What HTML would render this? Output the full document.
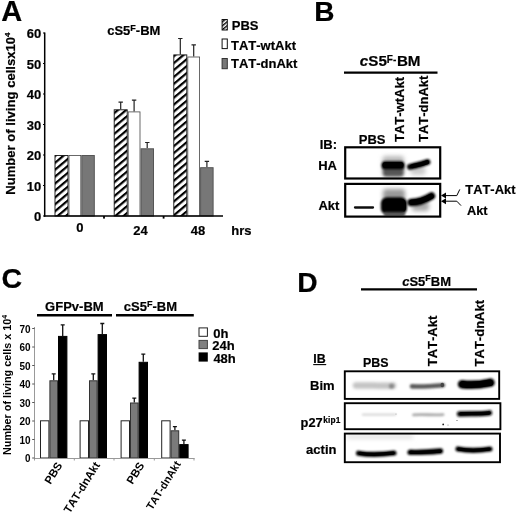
<!DOCTYPE html>
<html><head><meta charset="utf-8"><title>Figure</title>
<style>
html,body{margin:0;padding:0;background:#fff;}
body{width:520px;height:515px;overflow:hidden;position:relative;}
svg{position:absolute;left:0;top:0;display:block;}
text{font-kerning:none;font-family:"Liberation Sans",Arial,Helvetica,sans-serif;font-weight:bold;fill:#000;stroke:#000;stroke-width:0.2px;}
.ns{stroke:none;}
.pl{font-size:26.5px;}
</style></head><body>
<svg width="520" height="515" viewBox="0 0 520 515">
<defs>
<pattern id="hatch" width="5.3" height="5.3" patternUnits="userSpaceOnUse" patternTransform="rotate(-40)">
<rect x="0" y="0" width="5.3" height="5.3" fill="#fff"/>
<rect x="0" y="0" width="5.3" height="2.2" fill="#000"/>
</pattern>
<pattern id="hatchs" width="3" height="3" patternUnits="userSpaceOnUse" patternTransform="rotate(-40)">
<rect x="0" y="0" width="3" height="3" fill="#fff"/>
<rect x="0" y="0" width="3" height="1.4" fill="#000"/>
</pattern>
<filter id="b1" filterUnits="userSpaceOnUse" x="300" y="130" width="220" height="350"><feGaussianBlur stdDeviation="1"/></filter>
<filter id="b15" filterUnits="userSpaceOnUse" x="300" y="130" width="220" height="350"><feGaussianBlur stdDeviation="1.5"/></filter>
<filter id="b2" filterUnits="userSpaceOnUse" x="300" y="130" width="220" height="350"><feGaussianBlur stdDeviation="2"/></filter>
<filter id="b07" filterUnits="userSpaceOnUse" x="300" y="130" width="220" height="350"><feGaussianBlur stdDeviation="0.7"/></filter>
</defs>
<rect width="520" height="515" fill="#fff"/>

<g id="panelA">
<text x="1.2" y="20.6" font-size="29px">A</text>
<rect x="55.0" y="155.5" width="13.0" height="60.5" fill="url(#hatch)" stroke="#111" stroke-width="0.9"/>
<rect x="69.0" y="155.5" width="11.8" height="60.5" fill="#fff" stroke="#444" stroke-width="0.8"/>
<rect x="81.8" y="155.5" width="12.5" height="60.5" fill="#777" stroke="#555" stroke-width="1"/>
<path d="M120.7 109.2V102.2M118.5 102.2h4.4" stroke="#222" stroke-width="1.2" fill="none"/>
<rect x="114.2" y="109.8" width="13.0" height="106.2" fill="url(#hatch)" stroke="#111" stroke-width="0.9"/>
<path d="M134.1 111.4V100.1M131.9 100.1h4.4" stroke="#222" stroke-width="1.2" fill="none"/>
<rect x="128.2" y="111.9" width="11.8" height="104.1" fill="#fff" stroke="#444" stroke-width="0.8"/>
<path d="M147.2 148.3V142.5M145.1 142.5h4.4" stroke="#222" stroke-width="1.2" fill="none"/>
<rect x="141.0" y="148.8" width="12.5" height="67.2" fill="#777" stroke="#555" stroke-width="1"/>
<path d="M180.3 54.4V38.5M178.1 38.5h4.4" stroke="#222" stroke-width="1.2" fill="none"/>
<rect x="173.8" y="54.9" width="13.0" height="161.1" fill="url(#hatch)" stroke="#111" stroke-width="0.9"/>
<path d="M193.7 56.5V44.9M191.5 44.9h4.4" stroke="#222" stroke-width="1.2" fill="none"/>
<rect x="187.8" y="57.0" width="11.8" height="159.0" fill="#fff" stroke="#444" stroke-width="0.8"/>
<path d="M206.9 167.2V161.4M204.7 161.4h4.4" stroke="#222" stroke-width="1.2" fill="none"/>
<rect x="200.6" y="167.7" width="12.5" height="48.3" fill="#777" stroke="#555" stroke-width="1"/>
<path d="M44.7 32.5V216.7" stroke="#000" stroke-width="1.5" fill="none"/>
<path d="M44 216.0H223" stroke="#000" stroke-width="1.6" fill="none"/>
<rect x="103.1" y="216.0" width="1.8" height="2.6" fill="#000"/>
<rect x="162.7" y="216.0" width="1.8" height="2.6" fill="#000"/>
<path d="M43 216.0h1.7" stroke="#000" stroke-width="1.2"/>
<text x="41.2" y="221.1" font-size="13px" text-anchor="end">0</text>
<path d="M43 185.5h1.7" stroke="#000" stroke-width="1.2"/>
<text x="41.2" y="190.6" font-size="13px" text-anchor="end">10</text>
<path d="M43 155.0h1.7" stroke="#000" stroke-width="1.2"/>
<text x="41.2" y="160.1" font-size="13px" text-anchor="end">20</text>
<path d="M43 124.5h1.7" stroke="#000" stroke-width="1.2"/>
<text x="41.2" y="129.6" font-size="13px" text-anchor="end">30</text>
<path d="M43 94.0h1.7" stroke="#000" stroke-width="1.2"/>
<text x="41.2" y="99.1" font-size="13px" text-anchor="end">40</text>
<path d="M43 63.5h1.7" stroke="#000" stroke-width="1.2"/>
<text x="41.2" y="68.6" font-size="13px" text-anchor="end">50</text>
<path d="M43 33.0h1.7" stroke="#000" stroke-width="1.2"/>
<text x="41.2" y="38.1" font-size="13px" text-anchor="end">60</text>
<text x="79.9" y="231.8" font-size="13px" text-anchor="middle">0</text>
<text x="140.6" y="235.4" font-size="13px" text-anchor="middle">24</text>
<text x="198.1" y="235" font-size="13px" text-anchor="middle">48</text>
<text x="231.3" y="234.7" font-size="13px">hrs</text>
<text x="107.2" y="34.9" font-size="13px">cS5<tspan font-size="9px" dy="-4.3">F</tspan><tspan dy="4.3">-BM</tspan></text>
<text transform="translate(14.8 194.8) rotate(-90)" font-size="13.1px">Number of living cellsx10<tspan font-size="8px" dy="-4.6">4</tspan></text>
<rect x="222.1" y="19.5" width="5.2" height="10.5" fill="url(#hatchs)" stroke="#111" stroke-width="1"/>
<rect x="222.1" y="39" width="5.2" height="9.6" fill="#fff" stroke="#111" stroke-width="1"/>
<rect x="222.1" y="58.5" width="5.2" height="10.2" fill="#777" stroke="#333" stroke-width="1"/>
<text x="231.8" y="30" font-size="13px">PBS</text>
<text x="231" y="50.2" font-size="13px">TAT-wtAkt</text>
<text x="231" y="68.2" font-size="13px">TAT-dnAkt</text>
</g>
<g id="panelB">
<text x="314.3" y="20.7" font-size="28px">B</text>
<text x="359.8" y="66.1" font-size="15.2px"><tspan font-style="italic">c</tspan>S5<tspan font-size="10px" dy="-3.3">F-</tspan><tspan dy="3.3" dx="0.6">BM</tspan></text>
<path d="M344 72.7H437.5" stroke="#000" stroke-width="2.2"/>
<text transform="translate(404.4 142) rotate(-90)" font-size="13px">TAT-wtAkt</text>
<text transform="translate(428 142) rotate(-90)" font-size="13px">TAT-dnAkt</text>
<text x="358.8" y="143.7" font-size="13px">PBS</text>
<text x="319.7" y="149.4" font-size="13px">IB:</text>
<text x="318.2" y="169.6" font-size="13px">HA</text>
<text x="318.4" y="209.7" font-size="13px">Akt</text>
<g>
<rect x="345" y="147.3" width="95.2" height="32" fill="#fff"/>
<rect x="382.5" y="156" width="21.5" height="20" rx="3" fill="#bbb" filter="url(#b2)"/>
<rect x="383" y="165" width="20.5" height="11.5" rx="3" fill="#555" filter="url(#b15)"/>
<rect x="381.5" y="161.3" width="23" height="8" rx="3.5" fill="#000" filter="url(#b1)"/>
<rect x="382.5" y="162" width="21" height="6" rx="3" fill="#000" filter="url(#b07)"/>
<rect x="410.5" y="166" width="15" height="9" rx="3" fill="#ccc" filter="url(#b2)"/>
<path d="M410 166.8C414 165.6 420 165 427.5 162" stroke="#000" stroke-width="6" stroke-linecap="round" fill="none" filter="url(#b1)"/>
<path d="M412 166.2C416 165.4 421 164.6 427 162.2" stroke="#000" stroke-width="4.2" stroke-linecap="round" fill="none" filter="url(#b07)"/>
<rect x="345.2" y="147.3" width="95" height="31.2" fill="none" stroke="#000" stroke-width="2.2"/>
</g>
<g>
<rect x="345" y="183.2" width="95.2" height="33.4" fill="#fff"/>
<path d="M355 207.5H373" stroke="#111" stroke-width="2.3" stroke-linecap="round" filter="url(#b07)"/>
<rect x="383" y="189" width="22" height="12" rx="3" fill="#999" filter="url(#b2)"/>
<rect x="380.8" y="197.3" width="26.2" height="17" rx="6" fill="#000" filter="url(#b1)"/>
<rect x="383" y="198.8" width="23" height="14" rx="5" fill="#000"/>
<rect x="384" y="212" width="21" height="4" fill="#555" filter="url(#b1)"/>
<rect x="412" y="201" width="17" height="10" rx="3" fill="#aaa" filter="url(#b2)"/>
<path d="M411 202.5C416 202.5 424 200.5 431.5 196" stroke="#000" stroke-width="7.5" stroke-linecap="round" fill="none" filter="url(#b1)"/>
<path d="M412 202.2C417 202 424 200.3 431 196.3" stroke="#000" stroke-width="5.5" stroke-linecap="round" fill="none" filter="url(#b07)"/>
<rect x="345.2" y="183.9" width="95" height="32.7" fill="none" stroke="#000" stroke-width="2.2"/>
</g>
<path d="M441 195.6L446 192.6V198.6Z" fill="#000"/>
<path d="M441 201.2L446 198.2V204.2Z" fill="#000"/>
<path d="M445.5 195.6H456.8L459.8 189.4" stroke="#000" stroke-width="1" fill="none"/>
<path d="M445.5 201.2H456.8L461 205.6" stroke="#000" stroke-width="1" fill="none"/>
<text x="465.3" y="193.9" font-size="12.9px">TAT-Akt</text>
<text x="467" y="215" font-size="12.8px">Akt</text>
</g>
<g id="panelC">
<text x="1.4" y="288.4" font-size="28.5px">C</text>
<text x="45.1" y="310.6" font-size="13px">GFPv-BM</text>
<text x="123.8" y="311.4" font-size="13px">cS5<tspan font-size="9px" dy="-4.3">F</tspan><tspan dy="4.3">-BM</tspan></text>
<path d="M37 315.3H112" stroke="#000" stroke-width="2.4"/>
<path d="M116 315.3H193.8" stroke="#000" stroke-width="2.4"/>
<rect x="40.5" y="420.8" width="8.4" height="37.2" fill="#fff" stroke="#222" stroke-width="1"/>
<path d="M53.7 380.3V373.8M51.7 373.8h4" stroke="#111" stroke-width="1.3" fill="none"/>
<rect x="49.9" y="380.8" width="7.6" height="77.2" fill="#7a7a7a" stroke="#333" stroke-width="1"/>
<path d="M62.7 335.9V324.8M60.7 324.8h4" stroke="#111" stroke-width="1.3" fill="none"/>
<rect x="58.5" y="336.4" width="8.4" height="121.6" fill="#000" stroke="#000" stroke-width="1"/>
<rect x="80.1" y="420.8" width="8.4" height="37.2" fill="#fff" stroke="#222" stroke-width="1"/>
<path d="M93.3 380.3V373.8M91.3 373.8h4" stroke="#111" stroke-width="1.3" fill="none"/>
<rect x="89.5" y="380.8" width="7.6" height="77.2" fill="#7a7a7a" stroke="#333" stroke-width="1"/>
<path d="M102.3 334.1V323.5M100.3 323.5h4" stroke="#111" stroke-width="1.3" fill="none"/>
<rect x="98.1" y="334.6" width="8.4" height="123.4" fill="#000" stroke="#000" stroke-width="1"/>
<rect x="121.1" y="420.8" width="8.4" height="37.2" fill="#fff" stroke="#222" stroke-width="1"/>
<path d="M134.3 402.5V398.1M132.3 398.1h4" stroke="#111" stroke-width="1.3" fill="none"/>
<rect x="130.5" y="403.0" width="7.6" height="55.0" fill="#7a7a7a" stroke="#333" stroke-width="1"/>
<path d="M143.3 361.8V354.2M141.3 354.2h4" stroke="#111" stroke-width="1.3" fill="none"/>
<rect x="139.1" y="362.3" width="8.4" height="95.7" fill="#000" stroke="#000" stroke-width="1"/>
<rect x="161.7" y="420.8" width="8.4" height="37.2" fill="#fff" stroke="#222" stroke-width="1"/>
<path d="M174.9 430.2V426.6M172.9 426.6h4" stroke="#111" stroke-width="1.3" fill="none"/>
<rect x="171.1" y="430.8" width="7.6" height="27.2" fill="#7a7a7a" stroke="#333" stroke-width="1"/>
<path d="M183.9 444.1V440.1M181.9 440.1h4" stroke="#111" stroke-width="1.3" fill="none"/>
<rect x="179.7" y="444.6" width="8.4" height="13.4" fill="#000" stroke="#000" stroke-width="1"/>
<path d="M34.5 327V458.5H194.5" stroke="#999" stroke-width="1" fill="none"/>
<path d="M34.5 458.0v2.5" stroke="#999" stroke-width="1"/>
<path d="M74.3 458.0v2.5" stroke="#999" stroke-width="1"/>
<path d="M114 458.0v2.5" stroke="#999" stroke-width="1"/>
<path d="M154.3 458.0v2.5" stroke="#999" stroke-width="1"/>
<path d="M194 458.0v2.5" stroke="#999" stroke-width="1"/>
<path d="M32.2 458.0h2.3" stroke="#555" stroke-width="1"/>
<text x="30.6" y="462.2" class="ns" font-size="10.8px" text-anchor="end" textLength="5.5" lengthAdjust="spacingAndGlyphs">0</text>
<path d="M32.2 439.5h2.3" stroke="#555" stroke-width="1"/>
<text x="30.6" y="443.7" class="ns" font-size="10.8px" text-anchor="end" textLength="11.1" lengthAdjust="spacingAndGlyphs">10</text>
<path d="M32.2 421.0h2.3" stroke="#555" stroke-width="1"/>
<text x="30.6" y="425.2" class="ns" font-size="10.8px" text-anchor="end" textLength="11.1" lengthAdjust="spacingAndGlyphs">20</text>
<path d="M32.2 402.5h2.3" stroke="#555" stroke-width="1"/>
<text x="30.6" y="406.7" class="ns" font-size="10.8px" text-anchor="end" textLength="11.1" lengthAdjust="spacingAndGlyphs">30</text>
<path d="M32.2 384.0h2.3" stroke="#555" stroke-width="1"/>
<text x="30.6" y="388.2" class="ns" font-size="10.8px" text-anchor="end" textLength="11.1" lengthAdjust="spacingAndGlyphs">40</text>
<path d="M32.2 365.5h2.3" stroke="#555" stroke-width="1"/>
<text x="30.6" y="369.7" class="ns" font-size="10.8px" text-anchor="end" textLength="11.1" lengthAdjust="spacingAndGlyphs">50</text>
<path d="M32.2 347.0h2.3" stroke="#555" stroke-width="1"/>
<text x="30.6" y="351.2" class="ns" font-size="10.8px" text-anchor="end" textLength="11.1" lengthAdjust="spacingAndGlyphs">60</text>
<path d="M32.2 328.5h2.3" stroke="#555" stroke-width="1"/>
<text x="30.6" y="332.7" class="ns" font-size="10.8px" text-anchor="end" textLength="11.1" lengthAdjust="spacingAndGlyphs">70</text>
<text class="ns" transform="translate(10.7 455) rotate(-90)" font-size="10.8px">Number of living cells x 10<tspan font-size="7px" dy="-3.6">4</tspan></text>
<text transform="translate(62.8 465.3) rotate(-58)" class="ns" font-size="11.3px" text-anchor="end">PBS</text>
<text transform="translate(100.4 465) rotate(-58)" class="ns" font-size="11.3px" text-anchor="end">TAT-dnAkt</text>
<text transform="translate(144.8 465.3) rotate(-58)" class="ns" font-size="11.3px" text-anchor="end">PBS</text>
<text transform="translate(181.2 464) rotate(-58)" class="ns" font-size="10.8px" text-anchor="end">TAT-dnAkt</text>
<rect x="199" y="327.9" width="8.4" height="8.4" fill="#fff" stroke="#222" stroke-width="1"/>
<rect x="199" y="340.4" width="8.4" height="8.2" fill="#808080" stroke="#444" stroke-width="1"/>
<rect x="198.6" y="352.4" width="9.2" height="9.2" fill="#000"/>
<text x="213.3" y="337.5" font-size="13px">0h</text>
<text x="212.2" y="350.4" font-size="13px">24h</text>
<text x="213.4" y="362.5" font-size="13px">48h</text>
</g>
<g id="panelD">
<text x="297.3" y="291.9" font-size="28.2px">D</text>
<text x="402.2" y="285.7" font-size="13px"><tspan font-style="italic">c</tspan>S5<tspan font-size="9px" dy="-4.3">F</tspan><tspan dy="4.3">BM</tspan></text>
<path d="M361 289.4H477" stroke="#000" stroke-width="2.4"/>
<text transform="translate(437.1 366.3) rotate(-90)" font-size="13px">TAT-Akt</text>
<text transform="translate(484.1 366.4) rotate(-90)" font-size="13px">TAT-dnAkt</text>
<text x="363" y="367" font-size="12.4px">PBS</text>
<text x="313.3" y="362.7" font-size="12.4px">IB</text>
<path d="M313.2 364.6H326.2" stroke="#000" stroke-width="1.1"/>
<text x="310" y="390" font-size="13px">Bim</text>
<text x="300.6" y="426.6" font-size="12.8px">p27<tspan font-size="8.3px" dy="-3.8" dx="0.6" letter-spacing="0.15">kip1</tspan></text>
<text x="306.1" y="454.2" font-size="13px">actin</text>
<rect x="344.8" y="371.3" width="154.4" height="27.6" fill="#fff"/>
<path d="M356 385.6C366 384.8 380 386.4 393 385.6" stroke="#c4c4c4" stroke-width="6.5" stroke-linecap="round" fill="none" filter="url(#b15)"/>
<ellipse cx="391.5" cy="386.2" rx="2.6" ry="2.4" fill="#888" filter="url(#b1)"/>
<path d="M412 386.4C422 386.8 434 386 443 385.2" stroke="#5a5a5a" stroke-width="4.6" stroke-linecap="round" fill="none" filter="url(#b1)"/>
<ellipse cx="442.3" cy="385" rx="1.8" ry="2.2" fill="#444" filter="url(#b07)"/>
<path d="M462 384.2C472 385.8 482 384.4 490.5 382.6" stroke="#000" stroke-width="8.5" stroke-linecap="round" fill="none" filter="url(#b1)"/>
<path d="M463 384.2C472 385.6 482 384.3 490 382.8" stroke="#000" stroke-width="6.5" stroke-linecap="round" fill="none" filter="url(#b07)"/>
<rect x="344.8" y="371.3" width="154.4" height="27.6" fill="none" stroke="#000" stroke-width="1.9"/>
<rect x="344.8" y="403.2" width="155.6" height="26" fill="#fff"/>
<path d="M363 414.6H395" stroke="#d8d8d8" stroke-width="2.4" stroke-linecap="round" fill="none" filter="url(#b1)"/>
<path d="M413.5 414.8C424 414 434 415.5 443 414.6" stroke="#aaa" stroke-width="2.8" stroke-linecap="round" fill="none" filter="url(#b1)"/>
<path d="M459.5 414C470 413.5 480 414.2 489.5 412.8" stroke="#111" stroke-width="5.4" stroke-linecap="round" fill="none" filter="url(#b1)"/>
<path d="M461 413.8C470 413.4 480 414 489 413" stroke="#000" stroke-width="3.4" stroke-linecap="round" fill="none" filter="url(#b07)"/>
<circle cx="443.2" cy="424.4" r="0.9" fill="#222"/><circle cx="457" cy="420.5" r="0.6" fill="#555"/><circle cx="448" cy="425" r="0.5" fill="#666"/><circle cx="396" cy="414" r="0.5" fill="#888"/>
<rect x="344.8" y="403.2" width="155.6" height="26" fill="none" stroke="#000" stroke-width="1.9"/>
<rect x="344.8" y="433.6" width="155.2" height="28.6" fill="#fff"/>
<rect x="347" y="434.5" width="66" height="4.5" fill="#e4e4e4" filter="url(#b2)"/>
<path d="M358.5 453.2C368 454.8 384 454.4 394 453" stroke="#000" stroke-width="5.2" stroke-linecap="round" fill="none" filter="url(#b1)"/>
<path d="M360 453.4C368 454.6 384 454.2 393 453.2" stroke="#000" stroke-width="3.2" stroke-linecap="round" fill="none" filter="url(#b07)"/>
<path d="M410 452.3C420 452.8 432 451.8 440.5 451" stroke="#000" stroke-width="5.4" stroke-linecap="round" fill="none" filter="url(#b1)"/>
<path d="M411 452.3C420 452.6 432 451.7 440 451.2" stroke="#000" stroke-width="3.4" stroke-linecap="round" fill="none" filter="url(#b07)"/>
<path d="M458 449C468 450.8 480 450.5 490 449" stroke="#000" stroke-width="5.2" stroke-linecap="round" fill="none" filter="url(#b1)"/>
<path d="M459 449.2C468 450.6 480 450.3 489 449.2" stroke="#000" stroke-width="3.2" stroke-linecap="round" fill="none" filter="url(#b07)"/>
<rect x="344.8" y="433.6" width="155.2" height="28.6" fill="none" stroke="#000" stroke-width="1.9"/>
</g>
</svg>
</body></html>
